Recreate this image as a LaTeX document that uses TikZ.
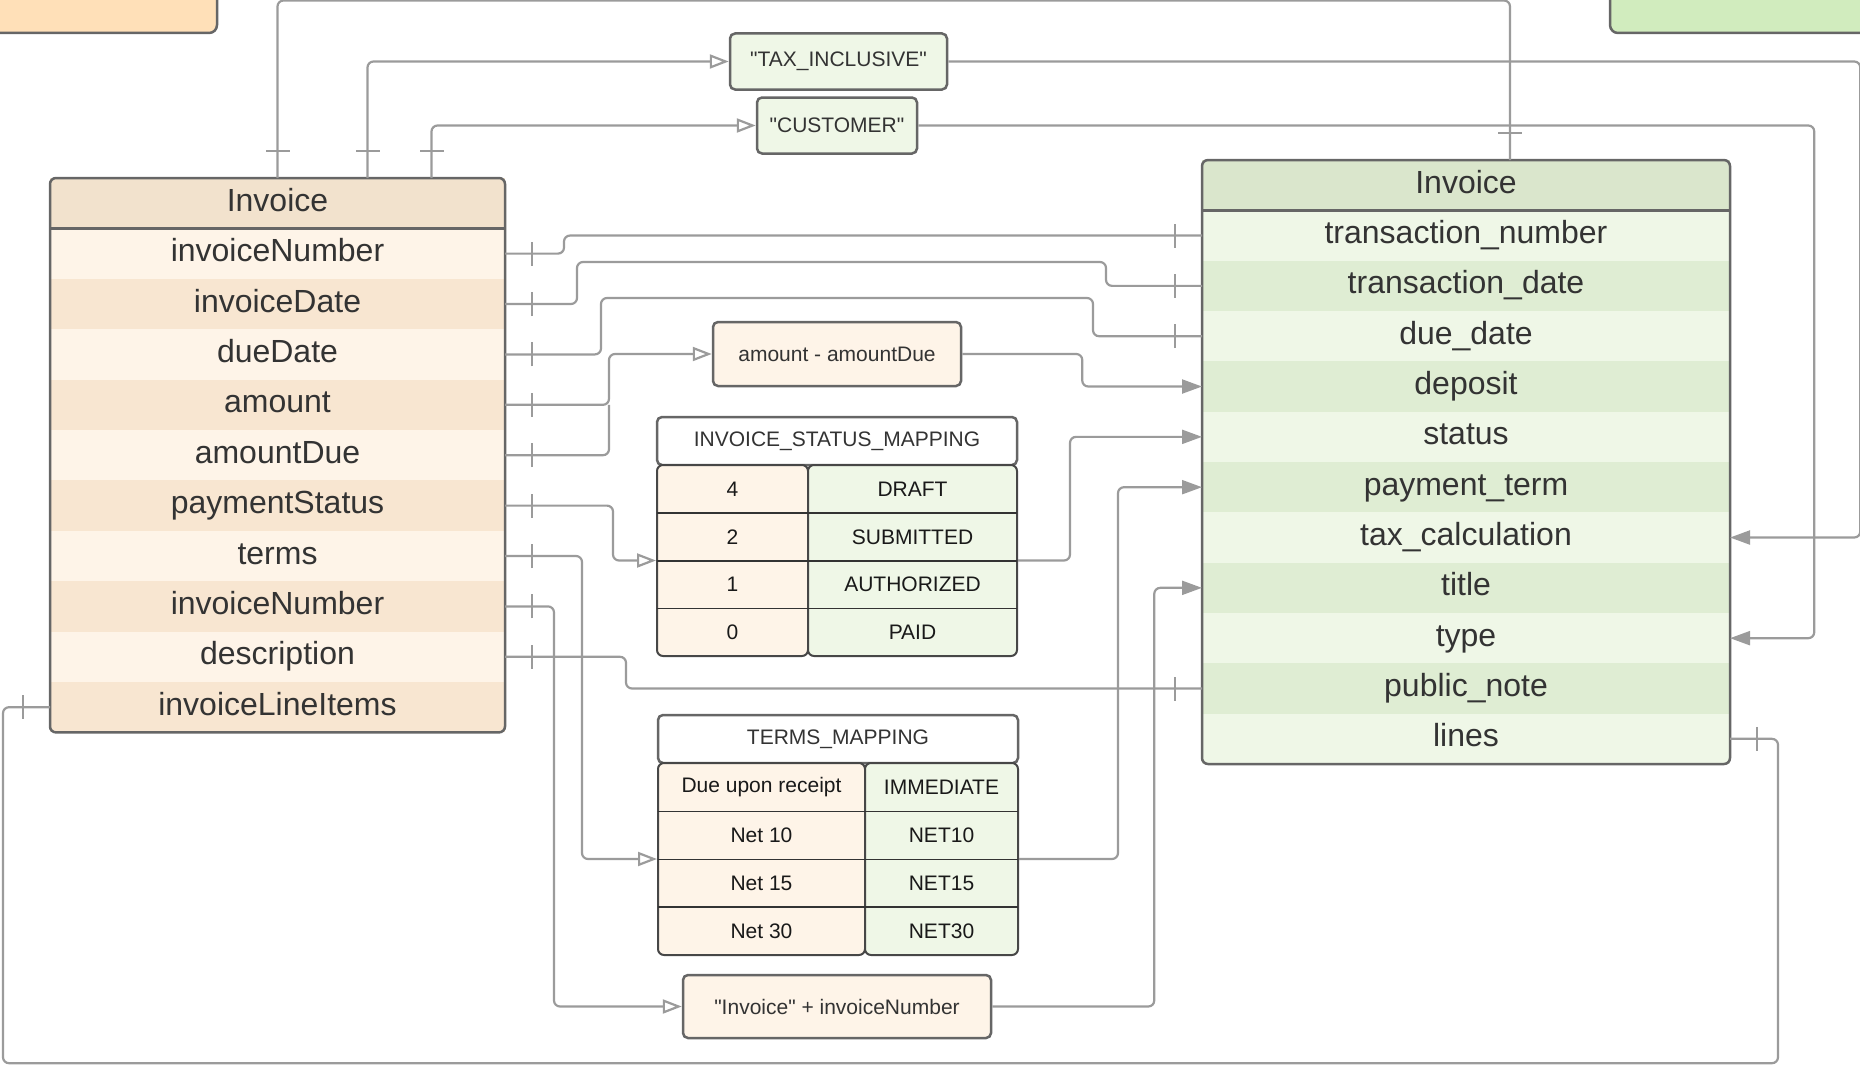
\documentclass[tikz,border=0pt]{standalone}
\usepackage{fontspec}
\setmainfont{Liberation Sans}
\usetikzlibrary{positioning,arrows.meta,decorations.markings}

\definecolor{linegray}{HTML}{9B9B9B}
\definecolor{framegray}{HTML}{666666}
\definecolor{txtdark}{HTML}{333333}
\definecolor{srchead}{HTML}{F2E2CD}
\definecolor{srclight}{HTML}{FEF4E8}
\definecolor{srcdark}{HTML}{F8E6D1}
\definecolor{dsthead}{HTML}{DAE6CC}
\definecolor{dstlight}{HTML}{EFF7E7}
\definecolor{dstdark}{HTML}{DFEDD3}
\definecolor{srcstubfill}{HTML}{FFE0B8}
\definecolor{dststubfill}{HTML}{D1ECBE}

\begin{document}
\begin{tikzpicture}[x=1pt,y=-1pt,
    conn/.style={draw=linegray,line width=2.2pt,rounded corners=6pt},
    tickstart/.style={postaction={decorate,decoration={markings,
        mark=at position 27pt with {\draw[-,linegray,line width=2.2pt] (0,-12pt) -- (0,12pt);}}}},
    tickend/.style={postaction={decorate,decoration={markings,
        mark=at position -27pt with {\draw[-,linegray,line width=2.2pt] (0,-12pt) -- (0,12pt);}}}},
    toopen/.style={-{Triangle[open,length=19pt,width=14pt]}},
    tofield/.style={-{Triangle[length=20pt,width=14pt]}},
    frame/.style={draw=framegray,line width=2.5pt,rounded corners=6pt},
    lrow/.style={rectangle,inner sep=0pt,outer sep=0pt,minimum width=455pt,minimum height=50.4pt,
        text height=23pt,text depth=7pt,font=\fontsize{32}{38}\selectfont,text=txtdark},
    rrow/.style={lrow,minimum width=528pt,minimum height=50.33pt},
    valbox/.style={rectangle,draw=framegray,line width=2.5pt,rounded corners=5pt,inner sep=0pt,
        font=\fontsize{21}{25}\selectfont,text=txtdark},
    column/.style={rectangle,draw=framegray!70!black,line width=2pt,rounded corners=6pt,inner sep=0pt},
    cell/.style={rectangle,inner sep=0pt,minimum height=47.75pt,font=\fontsize{21}{25}\selectfont,text=black!90},
    divider/.style={draw=black!80,line width=1.5pt},
    stub/.style={rectangle,draw=framegray,line width=2.5pt,rounded corners=8pt}]
\useasboundingbox (0,0) rectangle (1860,1065);

% cut off tables at the top
\node[stub,fill=srcstubfill,minimum width=260pt,minimum height=70pt] (srcstub) at (87,-2) {};
\node[stub,fill=dststubfill,minimum width=290pt,minimum height=70pt] (dststub) at (1755,-2) {};

% source Invoice
\node[lrow,fill=srchead] (lhead) at (277.5,203.2) {Invoice};
\node[lrow,fill=srclight,below=0pt of lhead] (l1) {invoiceNumber};
\node[lrow,fill=srcdark,below=0pt of l1] (l2) {invoiceDate};
\node[lrow,fill=srclight,below=0pt of l2] (l3) {dueDate};
\node[lrow,fill=srcdark,below=0pt of l3] (l4) {amount};
\node[lrow,fill=srclight,below=0pt of l4] (l5) {amountDue};
\node[lrow,fill=srcdark,below=0pt of l5] (l6) {paymentStatus};
\node[lrow,fill=srclight,below=0pt of l6] (l7) {terms};
\node[lrow,fill=srcdark,below=0pt of l7] (l8) {invoiceNumber};
\node[lrow,fill=srclight,below=0pt of l8] (l9) {description};
\node[lrow,fill=srcdark,below=0pt of l9] (l10) {invoiceLineItems};
\draw[frame] (lhead.north west) rectangle (l10.south east);
\draw[framegray,line width=2.5pt] (lhead.south west) -- (lhead.south east);

% target Invoice
\node[rrow,fill=dsthead] (rhead) at (1466,185.2) {Invoice};
\node[rrow,fill=dstlight,below=0pt of rhead] (r1) {transaction\_number};
\node[rrow,fill=dstdark,below=0pt of r1] (r2) {transaction\_date};
\node[rrow,fill=dstlight,below=0pt of r2] (r3) {due\_date};
\node[rrow,fill=dstdark,below=0pt of r3] (r4) {deposit};
\node[rrow,fill=dstlight,below=0pt of r4] (r5) {status};
\node[rrow,fill=dstdark,below=0pt of r5] (r6) {payment\_term};
\node[rrow,fill=dstlight,below=0pt of r6] (r7) {tax\_calculation};
\node[rrow,fill=dstdark,below=0pt of r7] (r8) {title};
\node[rrow,fill=dstlight,below=0pt of r8] (r9) {type};
\node[rrow,fill=dstdark,below=0pt of r9] (r10) {public\_note};
\node[rrow,fill=dstlight,below=0pt of r10] (r11) {lines};
\draw[frame] (rhead.north west) rectangle (r11.south east);
\draw[framegray,line width=2.5pt] (rhead.south west) -- (rhead.south east);

% constants and expressions
\node[valbox,fill=dstlight,minimum width=217pt,minimum height=56pt] (tax) at (838.5,61.5) {\textquotedbl TAX\_INCLUSIVE\textquotedbl};
\node[valbox,fill=dstlight,minimum width=160pt,minimum height=56pt] (cust) at (837,125.5) {\textquotedbl CUSTOMER\textquotedbl};
\node[valbox,fill=srclight,minimum width=248pt,minimum height=64pt] (diff) at (837,354) {amount - amountDue};
\node[valbox,fill=srclight,minimum width=308pt,minimum height=63pt] (concat) at (837,1006.5) {\textquotedbl Invoice\textquotedbl{} + invoiceNumber};

% INVOICE_STATUS_MAPPING
\node[valbox,fill=white,minimum width=360pt,minimum height=48pt] (sttitle) at (837,441) {INVOICE\_STATUS\_MAPPING};
\node[column,fill=srclight,minimum width=151pt,minimum height=191pt] (stkeys) at (732.5,560.5) {};
\node[column,fill=dstlight,minimum width=209pt,minimum height=191pt] (stvals) at (912.5,560.5) {};
\node[cell,minimum width=151pt] (st1k) at (732.5,489) {4};
\node[cell,minimum width=209pt] (st1v) at (912.5,489) {DRAFT};
\node[cell,minimum width=151pt] (st2k) at (732.5,537) {2};
\node[cell,minimum width=209pt] (st2v) at (912.5,537) {SUBMITTED};
\node[cell,minimum width=151pt] (st3k) at (732.5,584.5) {1};
\node[cell,minimum width=209pt] (st3v) at (912.5,584.5) {AUTHORIZED};
\node[cell,minimum width=151pt] (st4k) at (732.5,632) {0};
\node[cell,minimum width=209pt] (st4v) at (912.5,632) {PAID};
\draw[divider] (st1k.south west) -- (st1v.south east);
\draw[divider] (st2k.south west) -- (st2v.south east);
\draw[divider] (st3k.south west) -- (st3v.south east);

% TERMS_MAPPING
\node[valbox,fill=white,minimum width=360pt,minimum height=48pt] (tmtitle) at (838,739) {TERMS\_MAPPING};
\node[column,fill=srclight,minimum width=207pt,minimum height=192pt] (tmkeys) at (761.5,859) {};
\node[column,fill=dstlight,minimum width=153pt,minimum height=192pt] (tmvals) at (941.5,859) {};
\node[cell,minimum width=207pt] (tm1k) at (761.5,787.5) {Due upon receipt};
\node[cell,minimum width=153pt] (tm1v) at (941.5,787.5) {IMMEDIATE};
\node[cell,minimum width=207pt] (tm2k) at (761.5,835.5) {Net 10};
\node[cell,minimum width=153pt] (tm2v) at (941.5,835.5) {NET10};
\node[cell,minimum width=207pt] (tm3k) at (761.5,883) {Net 15};
\node[cell,minimum width=153pt] (tm3v) at (941.5,883) {NET15};
\node[cell,minimum width=207pt] (tm4k) at (761.5,931) {Net 30};
\node[cell,minimum width=153pt] (tm4v) at (941.5,931) {NET30};
\draw[divider] (tm1k.south west) -- (tm1v.south east);
\draw[divider] (tm2k.south west) -- (tm2v.south east);
\draw[divider] (tm3k.south west) -- (tm3v.south east);

% header links
\draw[conn,tickstart,tickend] (lhead.north) |- (1510,0.5) -- ([xshift=44pt]rhead.north);
\draw[conn,tickstart,toopen] ([xshift=90pt]lhead.north) |- (tax.west);
\draw[conn,tickstart,toopen] ([xshift=154pt]lhead.north) |- (cust.west);
\draw[conn,tofield] (tax.east) -- ++(912,0) |- (r7.east);
\draw[conn,tofield] (cust.east) -- ++(896,0) |- (r9.east);

% field links
\draw[conn,tickstart,tickend] (l1.east) -- ++(59,0) |- (r1.west);
\draw[conn,tickstart,tickend] (l2.east) -- ++(72,0) |- (1106,262) |- (r2.west);
\draw[conn,tickstart,tickend] (l3.east) -- ++(96,0) |- (1093,298) |- (r3.west);
\draw[conn,tickstart,toopen] (l4.east) -- ++(104,0) |- (diff.west);
\draw[conn,tickstart] (l5.east) -| ([xshift=104pt]l4.east);
\draw[conn,tofield] (diff.east) -- ++(120,0) |- (r4.west);
\draw[conn,tickstart,toopen] (l6.east) -- ++(108,0) |- (stkeys.west);
\draw[conn,tofield] (stvals.east) -- ++(52,0) |- (r5.west);
\draw[conn,tickstart,toopen] (l7.east) -- ++(77,0) |- (tmkeys.west);
\draw[conn,tofield] (tmvals.east) -- ++(99,0) |- (r6.west);
\draw[conn,tickstart,toopen] (l8.east) -- ++(49,0) |- (concat.west);
\draw[conn,tofield] (concat.east) -- ++(162,0) |- (r8.west);
\draw[conn,tickstart,tickend] (l9.east) -- ++(121,0) |- (r10.west);
\draw[conn,tickstart,tickend] (l10.west) -- ++(-47,0) -- ++(0,356) -| ([xshift=48pt]r11.east) -- (r11.east);
\end{tikzpicture}
\end{document}
